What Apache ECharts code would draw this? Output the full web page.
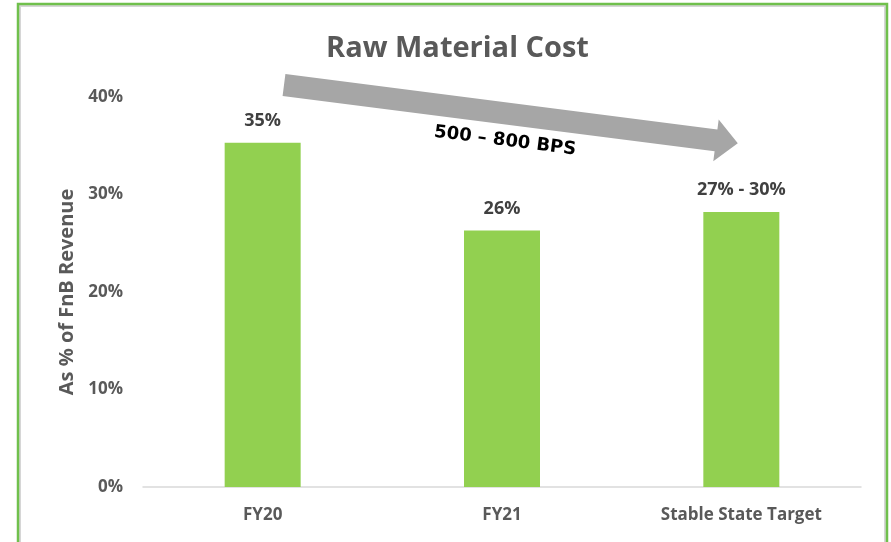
<!DOCTYPE html>
<html>
<head>
<meta charset="utf-8">
<script src="https://cdn.jsdelivr.net/npm/echarts@6/dist/echarts.min.js"></script>
<style>
  html, body { margin: 0; padding: 0; background: #fff; }
  #chart { width: 891px; height: 542px; }
</style>
</head>
<body>
<div id="chart"></div>
<script>
const categories = ['FY20', 'FY21', 'Stable State Target'];
const costShare = [35.3, 26.3, 28.2];
const barLabels = ['35%', '26%', '27% - 30%'];
const arrowText = '500 – 800 BPS';

const GREEN = '#92D050';
const GREY_TEXT = '#595959';

const chart = echarts.init(document.getElementById('chart'));

const options = {
  backgroundColor: '#fff',
  title: {
    text: 'Raw Material Cost',
    left: 321,
    top: 29,
    textStyle: {
      fontFamily: 'Open Sans',
      fontSize: 29,
      fontWeight: 'bold',
      color: GREY_TEXT
    }
  },
  grid: {
    left: 143,
    right: 30,
    top: 97,
    bottom: 55,
    containLabel: false
  },
  xAxis: {
    type: 'category',
    data: categories,
    axisLine: { lineStyle: { color: '#d9d9d9', width: 1.5 } },
    axisTick: { show: false },
    axisLabel: {
      margin: 20,
      color: GREY_TEXT,
      fontFamily: 'Open Sans',
      fontSize: 17,
      fontWeight: 'bold'
    }
  },
  yAxis: {
    type: 'value',
    min: 0,
    max: 40,
    interval: 10,
    name: 'As % of FnB Revenue',
    nameLocation: 'middle',
    nameGap: 66,
    nameTextStyle: {
      color: GREY_TEXT,
      fontFamily: 'Open Sans',
      fontSize: 20,
      fontWeight: 'bold'
    },
    splitLine: { show: false },
    axisLine: { show: false },
    axisTick: { show: false },
    axisLabel: {
      margin: 20,
      formatter: '{value}%',
      color: GREY_TEXT,
      fontFamily: 'Open Sans',
      fontSize: 17,
      fontWeight: 'bold'
    }
  },
  series: [
    {
      type: 'bar',
      data: costShare,
      barWidth: 76,
      itemStyle: { color: GREEN },
      label: {
        show: true,
        position: 'top',
        distance: 13,
        color: '#404040',
        fontFamily: 'Open Sans',
        fontSize: 18,
        fontWeight: 'bold',
        formatter: p => barLabels[p.dataIndex]
      }
    }
  ],
  graphic: [
    // frame: grey inner edge + green border (open at the bottom)
    {
      type: 'polyline',
      silent: true,
      shape: { points: [[20, 542], [20, 6], [885, 6], [885, 542]] },
      style: { stroke: '#d6d6d6', lineWidth: 2, fill: null }
    },
    {
      type: 'polyline',
      silent: true,
      shape: { points: [[18, 542], [18, 4], [887, 4], [887, 542]] },
      style: { stroke: '#70c04c', lineWidth: 2.5, fill: null }
    },
    // trend arrow
    {
      type: 'polygon',
      silent: true,
      shape: {
        points: [
          [285.4, 74.1], [717.4, 129.5], [718.7, 119.6],
          [737.8, 143.2], [713.3, 161.2], [714.6, 151.3], [282.6, 95.9]
        ]
      },
      style: { fill: '#a6a6a6' }
    },
    {
      type: 'text',
      silent: true,
      x: 505,
      y: 141,
      rotation: -0.125,
      style: {
        text: arrowText,
        fontFamily: 'DejaVu Sans',
        fontSize: 18,
        fontWeight: 'bold',
        fill: '#000',
        align: 'center',
        verticalAlign: 'middle'
      }
    }
  ]
};

chart.setOption(options);
</script>
</body>
</html>
